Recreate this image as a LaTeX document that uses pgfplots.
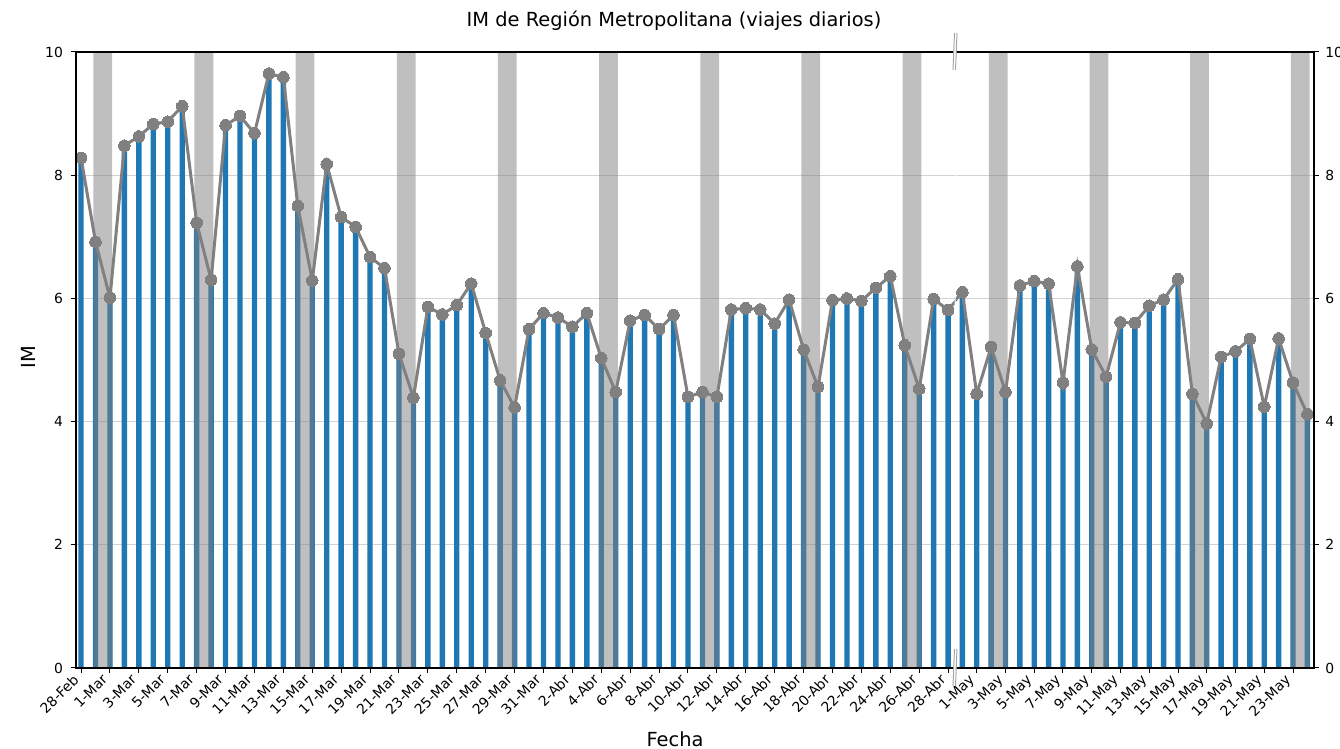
\documentclass[border=0pt]{standalone}
\usepackage{fontspec}
\setmainfont{DejaVu Sans}
\usepackage{pgfplots}
\usepackage{pgfplotstable}
\pgfplotsset{compat=1.18}
\definecolor{mplblue}{HTML}{1F77B4}
\definecolor{lgray}{HTML}{808080}

\pgfplotstableread{
x y
0 8.28
1 6.92
2 6.01
3 8.48
4 8.63
5 8.83
6 8.87
7 9.12
8 7.23
9 6.30
10 8.81
11 8.96
12 8.68
13 9.65
14 9.59
15 7.50
16 6.29
17 8.18
18 7.32
19 7.16
20 6.67
21 6.49
22 5.10
23 4.39
24 5.86
25 5.74
26 5.89
27 6.24
28 5.44
29 4.67
30 4.23
31 5.50
32 5.76
33 5.69
34 5.54
35 5.76
36 5.03
37 4.48
38 5.64
39 5.73
40 5.50
41 5.73
42 4.40
43 4.48
44 4.40
45 5.82
46 5.84
47 5.82
48 5.59
49 5.98
50 5.17
51 4.56
52 5.97
53 6.00
54 5.96
55 6.17
56 6.36
57 5.24
58 4.53
59 5.99
60 5.81
61.03 6.10
}\leftdata

\pgfplotstableread{
x y
-1.09 5.81
0 6.10
1 4.45
2 5.21
3 4.48
4 6.21
5 6.28
6 6.24
7 4.63
8 6.52
9 5.17
10 4.73
11 5.61
12 5.60
13 5.88
14 5.98
15 6.31
16 4.45
17 3.97
18 5.05
19 5.14
20 5.34
21 4.24
22 5.35
23 4.63
24 4.12
}\rightdata

\pgfplotsset{
  common/.style={
    scale only axis,
    height=308pt,
    ymin=0, ymax=10,
    ytick={0,2,4,6,8,10},
    axis line style={draw=none},
    ymajorgrids,
    major grid style={gray!35, line width=0.5pt},
    tick align=outside,
    major tick length=2.45pt,
    tick style={black, line width=0.5pt},
    xtick pos=bottom,
    /pgf/number format/assume math mode=true,
    yticklabel style={font=\fontsize{6.95}{8}\selectfont, inner sep=0pt},
    xticklabel style={font=\fontsize{6.95}{8}\selectfont, inner sep=0pt,
      xshift=-4.5pt, yshift=0pt, rotate=45, anchor=north east},
  },
}

\begin{document}
\begin{tikzpicture}
\useasboundingbox (0,0) rectangle (670pt,374.5pt);

% Left panel
\begin{axis}[common,
  at={(38pt,40.5pt)}, anchor=south west,
  width=439.3pt,
  xmin=-0.35, xmax=60.45,
  ytick pos=left,
  yticklabel style={anchor=east, xshift=-3.9pt},
  xtick={0,2,...,60},
  xticklabels={28-Feb,1-Mar,3-Mar,5-Mar,7-Mar,9-Mar,11-Mar,13-Mar,15-Mar,17-Mar,19-Mar,21-Mar,23-Mar,25-Mar,27-Mar,29-Mar,31-Mar,2-Abr,4-Abr,6-Abr,8-Abr,10-Abr,12-Abr,14-Abr,16-Abr,18-Abr,20-Abr,22-Abr,24-Abr,26-Abr,28-Abr},
]
\addplot[ybar, bar width=0.37, bar shift=0pt, fill=mplblue, draw=none] table[x=x,y=y] {\leftdata};
\addplot[ybar, bar width=1.3, bar shift=0pt, fill=gray, fill opacity=0.5, draw=none]
  coordinates {(1.5,10) (8.5,10) (15.5,10) (22.5,10) (29.5,10) (36.5,10) (43.5,10) (50.5,10) (57.5,10)};
\addplot[lgray, line width=1.5pt, mark=*, mark size=2.9pt, mark options={fill=lgray, draw=lgray, line width=0pt}] table[x=x,y=y] {\leftdata};
\end{axis}

% Right panel
\begin{axis}[common,
  at={(477.8pt,40.5pt)}, anchor=south west,
  width=179.2pt,
  xmin=-0.47, xmax=24.46,
  ytick pos=right,
  yticklabel pos=right,
  yticklabel style={anchor=west, xshift=3.05pt},
  xtick={1,3,...,23},
  xticklabels={1-May,3-May,5-May,7-May,9-May,11-May,13-May,15-May,17-May,19-May,21-May,23-May},
]
\addplot[ybar, bar width=0.37, bar shift=0pt, fill=mplblue, draw=none] table[x=x,y=y] {\rightdata};
\addplot[ybar, bar width=1.3, bar shift=0pt, fill=gray, fill opacity=0.5, draw=none]
  coordinates {(2.5,10) (9.5,10) (16.5,10) (23.5,10)};
\addplot[lgray, line width=1.5pt, mark=*, mark size=2.9pt, mark options={fill=lgray, draw=lgray, line width=0pt}] table[x=x,y=y] {\rightdata};
\end{axis}

% spines
\draw[black, line width=0.55pt] (477.3pt,40.5pt) -- (38pt,40.5pt) -- (38pt,348.5pt) -- (477.3pt,348.5pt);
\draw[black, line width=0.55pt] (477.8pt,40.5pt) -- (657pt,40.5pt) -- (657pt,348.5pt) -- (477.8pt,348.5pt);

% break marks
\foreach \ya/\yb in {339.5/358, 31.5/50} {
  \fill[white] (476.5pt,\ya pt) -- (477.25pt,\yb pt) -- (478.5pt,\yb pt) -- (477.75pt,\ya pt) -- cycle;
  \draw[gray!70, line width=0.5pt] (476.5pt,\ya pt) -- (477.25pt,\yb pt);
  \draw[gray!70, line width=0.5pt] (477.75pt,\ya pt) -- (478.5pt,\yb pt);
}

% labels
\node[font=\fontsize{9.7}{11}\selectfont, anchor=base, inner sep=0pt] at (337pt,361pt) {IM de Región Metropolitana (viajes diarios)};
\node[font=\fontsize{9.7}{11}\selectfont, anchor=base, inner sep=0pt] at (337.5pt,1.3pt) {Fecha};
\node[font=\fontsize{9.7}{11}\selectfont, rotate=90, inner sep=0pt] at (14pt,196pt) {IM};
\end{tikzpicture}
\end{document}
